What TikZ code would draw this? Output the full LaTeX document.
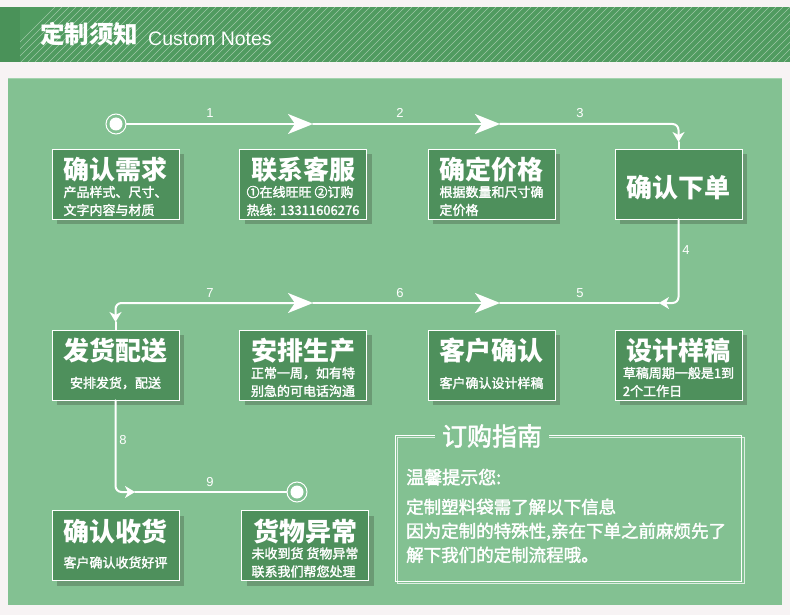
\documentclass[tikz,border=0pt]{standalone}
\usepackage{fontspec}
\setsansfont{Liberation Sans}
\newfontfamily\cjk{Noto Sans CJK SC}
\newfontfamily\cjkmid{Noto Sans CJK SC}[FakeBold=2]
\usetikzlibrary{arrows.meta,shadows,calc}

\definecolor{pagebg}{HTML}{F7F3F4}
\definecolor{headgreen}{HTML}{509B60}
\definecolor{headdark}{HTML}{4A9259}
\definecolor{panelgreen}{HTML}{83C192}
\definecolor{panellight}{HTML}{A3D3AE}
\definecolor{cardgreen}{HTML}{4E905C}
\definecolor{cardshade}{HTML}{6B9A74}

\tikzset{
  bighead/.tip={Stealth[length=25pt,width=20pt,inset=7pt]},
  smallhead/.tip={Stealth[length=10pt,width=12pt,inset=3pt]},
  card/.style={draw=white, line width=0.9pt, fill=cardgreen, minimum width=127pt,
    minimum height=70pt, inner sep=0pt,
    general shadow={shadow xshift=5pt, shadow yshift=-5pt, fill=cardshade}},
  cardtitle/.style={text=white, inner sep=0pt, font=\cjk\bfseries\fontsize{26}{26}\selectfont},
  cardsub/.style={text=white, inner sep=0pt, align=left, font=\cjkmid\fontsize{13}{18}\selectfont},
  flow/.style={white, line width=2pt, line cap=round, rounded corners=6pt},
  ring/.style={circle, draw=white, line width=1pt, minimum size=20pt, inner sep=0pt,
    path picture={\fill[white] (path picture bounding box.center) circle (6.5pt);}},
  num/.style={text=white, inner sep=0pt, font=\sffamily\fontsize{13}{13}\selectfont},
  guidetext/.style={text=white, inner sep=0pt, anchor=base west, font=\cjkmid\fontsize{17.5}{17.5}\selectfont},
}

\begin{document}
\begin{tikzpicture}[x=1pt,y=-1pt]
  \fill[pagebg] (0,0) rectangle (790,615);
  \useasboundingbox (0,0) rectangle (790,615);

  % header band
  \fill[headgreen] (0,7) rectangle (790,62);
  \begin{scope}
    \clip (20,7) rectangle (790,62);
    \foreach \sx in {0,7,...,840}
      \draw[white, opacity=0.45, line width=0.5pt] (\sx,62) -- (\sx+55,7);
  \end{scope}
  \fill[headdark] (0,7) rectangle (20,62);
  \node[text=white, inner sep=0pt, anchor=base west, font=\cjk\bfseries\fontsize{24.5}{24.5}\selectfont] (head) at (40,44) {定制须知};
  \node[text=white, inner sep=0pt, anchor=base west, font=\sffamily\fontsize{19.5}{19.5}\selectfont] (headen) at (148,46) {Custom Notes};

  % panel
  \fill[panelgreen] (8,78) rectangle (782,605);
  \draw[panellight, line width=1pt] (8,78.5) -- (782,78.5);

  % cards
  \node[card] (b1) at (115.5,184) {};
  \node[card] (b2) at (303,184) {};
  \node[card] (b3) at (491.5,184) {};
  \node[card] (b4) at (678.5,184) {};
  \node[card] (b5) at (115.5,365) {};
  \node[card] (b6) at (303,365) {};
  \node[card] (b7) at (491.5,365) {};
  \node[card] (b8) at (678.5,365) {};
  \node[card] (b9) at (115.5,545.5) {};
  \node[card] (b10) at (305,545.5) {};

  \node[cardtitle] (t1) at ($(b1)+(0,-14)$) {确认需求};
  \node[cardtitle] (t2) at ($(b2)+(0,-14)$) {联系客服};
  \node[cardtitle] (t3) at ($(b3)+(0,-14)$) {确定价格};
  \node[cardtitle] (t4) at ($(b4)+(0,4)$) {确认下单};
  \node[cardtitle] (t5) at ($(b5)+(0,-14)$) {发货配送};
  \node[cardtitle] (t6) at ($(b6)+(0,-14)$) {安排生产};
  \node[cardtitle] (t7) at ($(b7)+(0,-14)$) {客户确认};
  \node[cardtitle] (t8) at ($(b8)+(0,-14)$) {设计样稿};
  \node[cardtitle] (t9) at ($(b9)+(0,-14)$) {确认收货};
  \node[cardtitle] (t10) at ($(b10)+(0,-14)$) {货物异常};

  \node[cardsub] (s1) at ($(b1)+(0,17)$) {产品样式、尺寸、\\文字内容与材质};
  \node[cardsub] (s2) at ($(b2)+(0,17)$) {①在线旺旺 ②订购\\热线: 13311606276};
  \node[cardsub] (s3) at ($(b3)+(0,17)$) {根据数量和尺寸确\\定价格};
  \node[cardsub] (s5) at ($(b5)+(0,18)$) {安排发货，配送};
  \node[cardsub] (s6) at ($(b6)+(0,17)$) {正常一周，如有特\\别急的可电话沟通};
  \node[cardsub] (s7) at ($(b7)+(0,18)$) {客户确认设计样稿};
  \node[cardsub] (s8) at ($(b8)+(0,17)$) {草稿周期一般是1到\\2个工作日};
  \node[cardsub] (s9) at ($(b9)+(0,17)$) {客户确认收货好评};
  \node[cardsub] (s10) at ($(b10)+(0,17)$) {未收到货 货物异常\\联系我们帮您处理};

  % flow line
  \node[ring] (start) at (116,124) {};
  \node[ring] (stop) at (297,492) {};
  \coordinate (a1) at (313,124);
  \coordinate (a2) at (500,124);
  \coordinate (d3) at (678.5,142);
  \coordinate (r4) at (659,303);
  \coordinate (a6) at (500,303);
  \coordinate (a7) at (313,303);
  \coordinate (d5) at (115.5,322);
  \coordinate (r9) at (135,492);

  \draw[flow, -bighead] (start) -- (a1);
  \draw[flow, -bighead] (a1) -- (a2);
  \draw[flow, -smallhead] (a2) -| (d3);
  \draw[flow] (d3) -- (b4.north);
  \draw[flow, -smallhead] (b4.south) |- (r4);
  \draw[flow] (r4) -- (a6);
  \draw[flow, -bighead] (a7) -- (a6);
  \draw[flow, bighead-smallhead] (a7) -| (d5);
  \draw[flow] (d5) -- (b5.north);
  \draw[flow, -smallhead] (b5.south) |- (r9);
  \draw[flow] (r9) -- (stop);

  \node[num] (n1) at (210,113) {1};
  \node[num] (n2) at (400,113) {2};
  \node[num] (n3) at (580,113) {3};
  \node[num] (n4) at (686,250) {4};
  \node[num] (n5) at (580,293) {5};
  \node[num] (n6) at (400,293) {6};
  \node[num] (n7) at (210,293) {7};
  \node[num] (n8) at (123,440) {8};
  \node[num] (n9) at (210,482) {9};

  % guide box
  \draw[white, opacity=0.75, line width=0.8pt] (397,437) rectangle (744,583);
  \draw[white, line width=0.8pt] (395,435) rectangle (741,581);
  \fill[panelgreen] (435,428) rectangle (549,442);
  \node[text=white, inner sep=0pt, font=\cjkmid\fontsize{25}{25}\selectfont] (gt) at (492,436) {订购指南};
  \node[guidetext, font=\cjkmid\fontsize{18}{18}\selectfont] (warm) at (406,484) {温馨提示您:};
  \node[guidetext] (g1) at (406,513.5) {定制塑料袋需了解以下信息};
  \node[guidetext] (g2) at (406,537.5) {因为定制的特殊性,亲在下单之前麻烦先了};
  \node[guidetext] (g3) at (406,561.5) {解下我们的定制流程哦。};
\end{tikzpicture}
\end{document}
